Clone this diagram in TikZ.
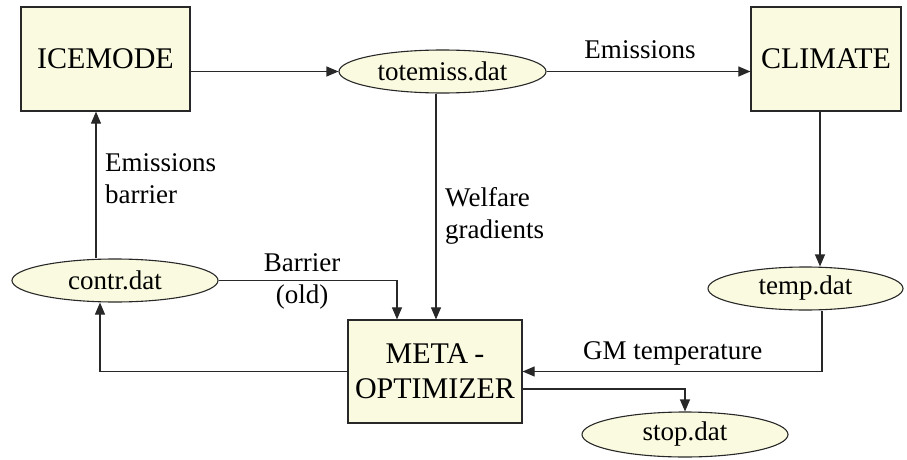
\documentclass[tikz,border=0pt]{standalone}
\usepackage{fontspec}
\setmainfont{Liberation Serif}
\usetikzlibrary{shapes.geometric,arrows.meta}
\definecolor{boxfill}{RGB}{250,250,224}
\definecolor{linec}{RGB}{40,40,40}
\tikzset{
  boxnode/.style={draw=linec,line width=1.2pt,fill=boxfill,rectangle,inner sep=0pt,
    font=\fontsize{30}{35}\selectfont,align=center},
  filenode/.style={draw=linec,line width=1.1pt,fill=boxfill,ellipse,inner sep=0pt,
    font=\fontsize{27}{32}\selectfont},
  lbl/.style={font=\fontsize{27}{32}\selectfont,inner sep=0pt},
  arr/.style={draw=linec,line width=1.1pt,-{Triangle[length=12pt,width=10pt]}},
}
\begin{document}
\begin{tikzpicture}[x=1pt,y=-1pt]
\useasboundingbox (0,0) rectangle (907,460);
% boxes
\node[boxnode,minimum width=169pt,minimum height=104pt] (ice) at (105.5,59) {ICEMODE};
\node[boxnode,minimum width=150pt,minimum height=104pt] (clim) at (826,59) {CLIMATE};
\node[boxnode,minimum width=174pt,minimum height=103pt] (meta) at (435,371.5) {META\kern6pt-\\OPTIMIZER};
% files
\node[filenode,minimum width=207pt,minimum height=43pt] (tot) at (442.5,71.5) {totemiss.dat};
\node[filenode,minimum width=206pt,minimum height=43pt] (contr) at (115,280.5) {contr.dat};
\node[filenode,minimum width=195pt,minimum height=43pt] (temp) at (805.5,288.5) {temp.dat};
\node[filenode,minimum width=206pt,minimum height=45pt] (stop) at (685,434.5) {stop.dat};
% connectors
\draw[arr] (tot.west -| ice.east) -- (tot.west);
\draw[arr] (tot.east) -- (tot.east -| clim.west);
\draw[arr] ([xshift=-6pt]clim.south) -- ([xshift=-6pt]clim.south |- temp.north);
\draw[arr] ([xshift=16.5pt]temp.south) |- (meta.east);
\draw[arr] ([yshift=-17.5pt]meta.east) -| (stop.north);
\draw[arr] ([xshift=-6.5pt]tot.south) -- ([xshift=-6.5pt]tot.south |- meta.north);
\draw[arr] (contr.east) -| ([xshift=-38pt]meta.north);
\draw[arr] (meta.west) -| ([xshift=-15pt]contr.south);
\draw[arr] ([xshift=-19pt]contr.north) -- ([xshift=-19pt]contr.north |- ice.south);
% labels
\node[lbl] (lemis) at (640,50) {Emissions};
\node[lbl,anchor=west] (lgm) at (583,353) {GM temperature};
\node[lbl,anchor=west,align=left] (lwel) at (445,216) {Welfare\\gradients};
\node[lbl,anchor=west,align=left] (lebar) at (105,179) {Emissions\\barrier};
\node[lbl,align=center] (lbar) at (302,281) {Barrier\\(old)};
\end{tikzpicture}
\end{document}
